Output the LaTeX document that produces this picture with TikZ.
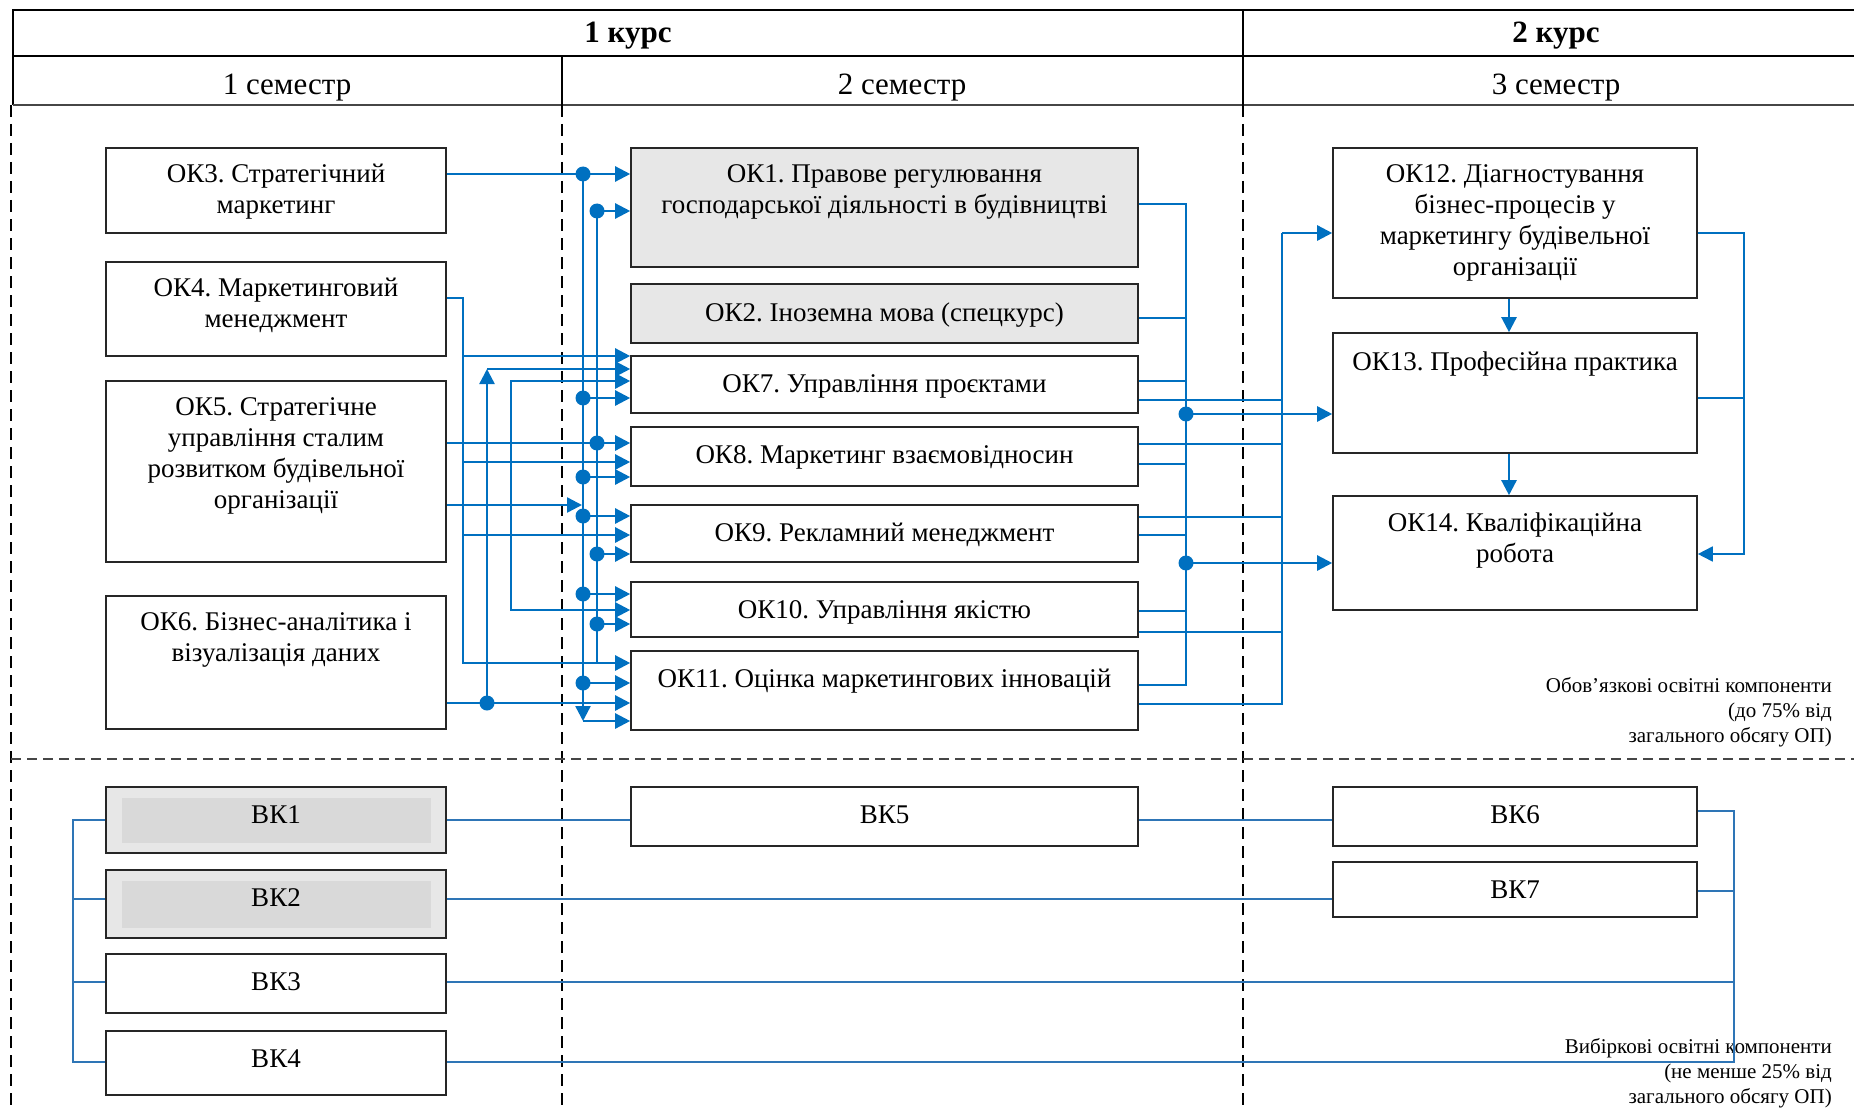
\documentclass[tikz,border=0pt]{standalone}
\usepackage{fontspec}
\setmainfont{Liberation Serif}
\usepackage{xcolor}
\usepackage{tikz}
\usetikzlibrary{arrows.meta}
\definecolor{linkblue}{RGB}{0,112,192}
\definecolor{optblue}{RGB}{46,117,182}
\definecolor{boxgray}{RGB}{231,231,231}
\definecolor{innergray}{RGB}{217,217,217}
\definecolor{framegray}{RGB}{70,70,70}
\newcommand{\okfont}{\fontsize{27}{31}\selectfont}
\newcommand{\headfont}{\fontsize{31}{35}\selectfont}
\newcommand{\notefont}{\fontsize{21}{25}\selectfont}
\frenchspacing

\begin{document}
\begin{tikzpicture}[x=1pt, y=-1pt, >={Triangle[length=15pt,width=15pt]}]
    \tikzstyle{tableline} = [draw=black, line width=2.2pt]
    \tikzstyle{divider} = [draw=black, line width=1.8pt, dash pattern=on 12pt off 7pt]
    \tikzstyle{okbox} = [rectangle, draw=black!85, line width=1.6pt, fill=white, inner sep=0pt]
    \tikzstyle{leftbox} = [okbox, minimum width=340]
    \tikzstyle{midbox} = [okbox, minimum width=507]
    \tikzstyle{rightbox} = [okbox, minimum width=364]
    \tikzstyle{grayfill} = [fill=boxgray]
    \tikzstyle{vkgray} = [leftbox, fill=boxgray, path picture={\fill[innergray] ([xshift=16pt,yshift=-11pt]path picture bounding box.north west) rectangle ([xshift=-15pt,yshift=10pt]path picture bounding box.south east);}]
    \tikzstyle{boxtext} = [anchor=north, align=center, inner sep=0pt, yshift=-17pt, font=\okfont]
    \tikzstyle{linetext} = [boxtext, yshift=-2pt]
    \tikzstyle{coursetext} = [anchor=base, font=\headfont\bfseries]
    \tikzstyle{semtext} = [anchor=base, font=\headfont]
    \tikzstyle{notetext} = [anchor=north east, align=right, inner sep=0pt, font=\notefont]
    \tikzstyle{link} = [draw=linkblue, line width=2.4pt]
    \tikzstyle{thinlink} = [draw=linkblue, line width=1.8pt]
    \tikzstyle{optlink} = [draw=optblue, line width=1.8pt]

    \useasboundingbox (0,0) rectangle (1854,1110);

    % Header table: courses and semesters
    \draw[tableline] (13,105) -- (13,10) -- (1854,10);
    \draw[tableline] (13,56) -- (1854,56);
    \draw[tableline, line width=1.2pt, draw=framegray] (13,105) -- (1854,105);
    \draw[tableline] (562,56) -- (562,105);
    \draw[tableline] (1243,10) -- (1243,105);
    \node[coursetext] (course1) at (628,43) {1 курс};
    \node[coursetext] (course2) at (1556,43) {2 курс};
    \node[semtext] (sem1) at (287,95) {1 семестр};
    \node[semtext] (sem2) at (902,95) {2 семестр};
    \node[semtext] (sem3) at (1556,95) {3 семестр};

    % Dashed borders of the semesters and of the two parts
    \draw[divider] (11,105) -- (11,1110);
    \draw[divider] (562,105) -- (562,1110);
    \draw[divider] (1243,105) -- (1243,1110);
    \draw[divider, draw=framegray, line width=1.6pt, dash pattern=on 10pt off 6pt] (11,759) -- (1854,759);

    % Compulsory components, 1 semester
    \node[leftbox, minimum height=85, label={[boxtext, name=ok3t]north:{ОК3. Стратегічний\\маркетинг}}] (ok3) at (276,190.5) {};
    \node[leftbox, minimum height=94, label={[boxtext, name=ok4t]north:{ОК4. Маркетинговий\\менеджмент}}] (ok4) at (276,309) {};
    \node[leftbox, minimum height=181, label={[boxtext, name=ok5t]north:{ОК5. Стратегічне\\управління сталим\\розвитком будівельної\\організації}}] (ok5) at (276,471.5) {};
    \node[leftbox, minimum height=133, label={[boxtext, name=ok6t]north:{ОК6. Бізнес-аналітика і\\візуалізація даних}}] (ok6) at (276,662.5) {};

    % Compulsory components, 2 semester
    \node[midbox, grayfill, minimum height=119, label={[boxtext, name=ok1t]north:{ОК1. Правове регулювання\\господарської діяльності в будівництві}}] (ok1) at (884.5,207.5) {};
    \node[midbox, grayfill, minimum height=59, label={[linetext, name=ok2t]north:{ОК2. Іноземна мова (спецкурс)}}] (ok2) at (884.5,313.5) {};
    \node[midbox, minimum height=57, label={[linetext, name=ok7t]north:{ОК7. Управління проєктами}}] (ok7) at (884.5,384.5) {};
    \node[midbox, minimum height=59, label={[linetext, name=ok8t]north:{ОК8. Маркетинг взаємовідносин}}] (ok8) at (884.5,456.5) {};
    \node[midbox, minimum height=57, label={[linetext, name=ok9t]north:{ОК9. Рекламний менеджмент}}] (ok9) at (884.5,533.5) {};
    \node[midbox, minimum height=55, label={[linetext, name=ok10t]north:{ОК10. Управління якістю}}] (ok10) at (884.5,609.5) {};
    \node[midbox, minimum height=79, label={[linetext, name=ok11t]north:{ОК11. Оцінка маркетингових інновацій}}] (ok11) at (884.5,690.5) {};

    % Compulsory components, 3 semester
    \node[rightbox, minimum height=150, label={[boxtext, name=ok12t]north:{ОК12. Діагностування\\бізнес-процесів у\\маркетингу будівельної\\організації}}] (ok12) at (1515,223) {};
    \node[rightbox, minimum height=120, label={[linetext, name=ok13t]north:{ОК13. Професійна практика}}] (ok13) at (1515,393) {};
    \node[rightbox, minimum height=114, label={[boxtext, name=ok14t]north:{ОК14. Кваліфікаційна\\робота}}] (ok14) at (1515,553) {};

    % Elective components
    \node[vkgray, minimum height=66, label={[linetext, name=vk1t]north:{ВК1}}] (vk1) at (276,820) {};
    \node[vkgray, minimum height=68, label={[linetext, name=vk2t]north:{ВК2}}] (vk2) at (276,904) {};
    \node[leftbox, minimum height=59, label={[linetext, name=vk3t]north:{ВК3}}] (vk3) at (276,983.5) {};
    \node[leftbox, minimum height=64, label={[linetext, name=vk4t]north:{ВК4}}] (vk4) at (276,1063) {};
    \node[midbox, minimum height=59, label={[linetext, name=vk5t]north:{ВК5}}] (vk5) at (884.5,816.5) {};
    \node[rightbox, minimum height=59, label={[linetext, name=vk6t]north:{ВК6}}] (vk6) at (1515,816.5) {};
    \node[rightbox, minimum height=55, label={[linetext, name=vk7t]north:{ВК7}}] (vk7) at (1515,889.5) {};

    % Notes
    \node[notetext] (notecomp) at (1832,677) {Обов’язкові освітні компоненти\\(до 75\% від\\загального обсягу ОП)};
    \node[notetext] (noteopt) at (1832,1038) {Вибіркові освітні компоненти\\(не менше 25\% від\\загального обсягу ОП)};

    % Bus points
    \coordinate (b4) at (463,298);
    \coordinate (b6) at (487,703);
    \coordinate (bq) at (511,381);
    \coordinate (b3) at (583,174);
    \coordinate (b1) at (597,211);
    \coordinate (r1) at (1186,204);
    \coordinate (r2) at (1282,233);
    \coordinate (r3) at (1744,233);
    \coordinate (v1) at (73,820);
    \coordinate (v2) at (1734,811);

    % Links from 1 semester to 2 semester
    \draw[link, ->] (ok3.east |- b3) -- (ok1.west |- b3);
    \draw[link, ->] (b3) -- (b3 |- 0,721);
    \draw[link, ->] (b3 |- 0,721) -- (ok11.west |- 0,721);
    \draw[link, ->] (b3 |- 0,398) -- (ok7.west |- 0,398);
    \draw[link, ->] (b3 |- 0,477) -- (ok8.west |- 0,477);
    \draw[link, ->] (b3 |- 0,516) -- (ok9.west |- 0,516);
    \draw[link, ->] (b3 |- 0,594) -- (ok10.west |- 0,594);
    \draw[link, ->] (b3 |- 0,683) -- (ok11.west |- 0,683);

    \draw[link] (b1) -- (b1 |- 0,663);
    \draw[link, ->] (b1) -- (ok1.west |- b1);
    \draw[link, ->] (b1 |- 0,554) -- (ok9.west |- 0,554);
    \draw[link, ->] (b1 |- 0,624) -- (ok10.west |- 0,624);

    \draw[link, ->] (ok4.east |- b4) -- (b4) -- (b4 |- 0,663) -- (ok11.west |- 0,663);
    \draw[link, ->] (b4 |- 0,356) -- (ok7.west |- 0,356);
    \draw[link, ->] (b4 |- 0,462) -- (ok8.west |- 0,462);
    \draw[link, ->] (b4 |- 0,535) -- (ok9.west |- 0,535);

    \draw[link, ->] (ok5.east |- 0,443) -- (ok8.west |- 0,443);
    \draw[link, ->] (ok5.east |- 0,505) -- ([xshift=-1pt]b3 |- 0,505);

    \draw[link, ->] (ok6.east |- b6) -- (ok11.west |- b6);
    \draw[link, ->] (b6) -- (b6 |- 0,369);
    \draw[link, ->] (b6 |- 0,369) -- (ok7.west |- 0,369);

    \draw[link, <->] (ok7.west |- bq) -- (bq) -- (bq |- 0,610) -- (ok10.west |- 0,610);

    % Links from 2 semester to 3 semester
    \draw[thinlink] (ok1.east |- r1) -- (r1) -- (r1 |- 0,685) -- (ok11.east |- 0,685);
    \draw[thinlink] (ok2.east |- 0,318) -- (r1 |- 0,318);
    \draw[thinlink] (ok7.east |- 0,381) -- (r1 |- 0,381);
    \draw[thinlink] (ok8.east |- 0,464) -- (r1 |- 0,464);
    \draw[thinlink] (ok9.east |- 0,535) -- (r1 |- 0,535);
    \draw[thinlink] (ok10.east |- 0,611) -- (r1 |- 0,611);
    \draw[link, ->] (r1 |- 0,414) -- (ok13.west |- 0,414);
    \draw[link, ->] (r1 |- 0,563) -- (ok14.west |- 0,563);

    \draw[thinlink] (ok11.east |- 0,704) -- (r2 |- 0,704) -- (r2);
    \draw[thinlink] (ok7.east |- 0,400) -- (r2 |- 0,400);
    \draw[thinlink] (ok8.east |- 0,444) -- (r2 |- 0,444);
    \draw[thinlink] (ok9.east |- 0,517) -- (r2 |- 0,517);
    \draw[thinlink] (ok10.east |- 0,632) -- (r2 |- 0,632);
    \draw[link, ->] (r2) -- (ok12.west |- r2);

    % Links inside 3 semester
    \draw[link, ->] (ok12.south -| 1509,0) -- (ok13.north -| 1509,0);
    \draw[link, ->] (ok13.south -| 1509,0) -- (ok14.north -| 1509,0);
    \draw[thinlink, ->] (ok12.east |- r3) -- (r3) -- (r3 |- 0,554) -- (ok14.east |- 0,554);
    \draw[thinlink] (ok13.east |- 0,398) -- (r3 |- 0,398);

    % Junction points
    \fill[linkblue] (b3) circle (7.5);
    \fill[linkblue] (b3 |- 0,398) circle (7.5);
    \fill[linkblue] (b3 |- 0,477) circle (7.5);
    \fill[linkblue] (b3 |- 0,516) circle (7.5);
    \fill[linkblue] (b3 |- 0,594) circle (7.5);
    \fill[linkblue] (b3 |- 0,683) circle (7.5);
    \fill[linkblue] (b1) circle (7.5);
    \fill[linkblue] (b1 |- 0,443) circle (7.5);
    \fill[linkblue] (b1 |- 0,554) circle (7.5);
    \fill[linkblue] (b1 |- 0,624) circle (7.5);
    \fill[linkblue] (b6) circle (7.5);
    \fill[linkblue] (r1 |- 0,414) circle (7.5);
    \fill[linkblue] (r1 |- 0,563) circle (7.5);

    % Links of elective components
    \draw[optlink] (vk1.west) -- (v1) -- (v1 |- 0,1062) -- (vk4.west |- 0,1062);
    \draw[optlink] (v1 |- 0,899) -- (vk2.west |- 0,899);
    \draw[optlink] (v1 |- 0,982) -- (vk3.west |- 0,982);
    \draw[optlink] (vk1.east) -- (vk5.west |- vk1.east);
    \draw[optlink] (vk5.east |- vk1.east) -- (vk6.west |- vk1.east);
    \draw[optlink] (vk2.east |- 0,899) -- (vk7.west |- 0,899);
    \draw[optlink] (vk6.east |- v2) -- (v2) -- (v2 |- 0,1062) -- (vk4.east |- 0,1062);
    \draw[optlink] (vk7.east |- 0,891) -- (v2 |- 0,891);
    \draw[optlink] (vk3.east |- 0,982) -- (v2 |- 0,982);
\end{tikzpicture}
\end{document}
